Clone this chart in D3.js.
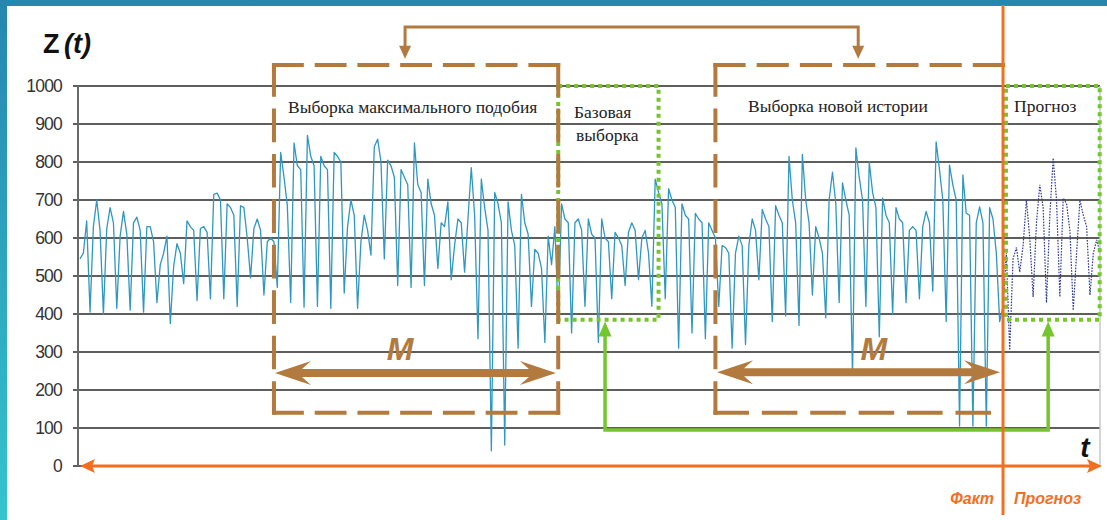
<!DOCTYPE html>
<html><head><meta charset="utf-8">
<script src="https://cdn.jsdelivr.net/npm/d3@7"></script>
<style>html,body{margin:0;padding:0;background:#fff;} svg{display:block;}</style>
</head><body>
<svg id="c" width="1107" height="520"></svg>
<script>
// ---------- DATA ----------
const yTicks = [0, 100, 200, 300, 400, 500, 600, 700, 800, 900, 1000];

// Actual series Z(t) (fact), one week per line: three working-day values then the weekend trough
const actual = [
  545, 560, 645, 405,
  630, 700, 620, 400,
  625, 680, 640, 415,
  605, 670, 610, 410,
  640, 655, 620, 405,
  630, 630, 590, 430,
  530, 560, 605, 375,
  525, 585, 560, 480,
  645, 630, 620, 435,
  625, 630, 615, 440,
  715, 718, 700, 440,
  690, 680, 660, 420,
  685, 680, 600, 495,
  625, 650, 620, 450,
  590, 600, 590, 470,
  825, 760, 685, 430,
  850, 790, 780, 418,
  870, 815, 790, 420,
  815, 790, 780, 415,
  825, 815, 800, 455,
  630, 700, 660, 415,
  590, 660, 620, 555,
  840, 860, 800, 545,
  805, 790, 760, 475,
  780, 760, 740, 470,
  850, 740, 720, 475,
  755, 690, 660, 520,
  640, 630, 695, 490,
  580, 650, 640, 510,
  650, 785, 660, 335,
  755, 680, 620, 40,
  720, 690, 640, 55,
  695, 620, 580, 310,
  715, 640, 610, 420,
  570, 560, 520, 325,
  605, 530, 630, 385,
  690, 650, 640, 350,
  640, 650, 620, 420,
  650, 610, 600, 325,
  650, 600, 590, 440,
  615, 600, 580, 475,
  615, 640, 620, 490,
  600, 620, 560, 420,
  755, 720, 690, 440,
  730, 700, 680, 310,
  690, 660, 650, 350,
  665, 650, 640, 335,
  640, 620, 600, 420,
  580, 575, 560, 310,
  560, 605, 580, 320,
  580, 650, 620, 490,
  675, 650, 630, 380,
  685, 660, 640, 395,
  815, 700, 640, 370,
  820, 700, 640, 450,
  630, 600, 560, 390,
  700, 773, 690, 430,
  745, 700, 660, 240,
  837, 760, 700, 420,
  800, 720, 680, 340,
  705, 660, 640, 400,
  680, 650, 640, 430,
  620, 630, 620, 440,
  630, 670, 640, 460,
  853, 780, 700, 380,
  792, 740, 700, 105,
  766, 665, 660, 105,
  640, 682, 640, 105,
  680, 650, 560, 380,
  420
];

// Forecast series (starts at the last fact point)
const forecast = [420, 560, 305, 545, 575, 510, 580, 700, 600, 445, 640, 740, 680, 430, 660,
                  810, 700, 445, 705, 690, 620, 410, 560, 700, 660, 630, 450, 560, 595, 560];

// Annotation spans (in time-index units) and levels (in Z units)
const spanMaxSim = [58, 143];
const spanBase = [143, 173];
const spanNew = [190, 276];
const spanForecast = [276, 305];
const arrowM1 = [58.3, 142.3];
const arrowM2 = [190.5, 275.1];
const labelM = [95.7, 237.4];
const linkTop = [97.2, 232.7];
const linkGreen = [157, 289.5];

const boxTexts = ["Выборка максимального подобия", "Базовая", "выборка", "Выборка новой истории", "Прогноз"];
const axisTexts = { z: "Z", zt: "(t)", t: "t", fact: "Факт", prog: "Прогноз", m: "M" };

// ---------- DRAW ----------
const W = 1107, H = 520;
const svg = d3.select('#c');
const x = d3.scaleLinear().domain([0, actual.length - 1 + forecast.length - 1]).range([80, 1100]);
const y = d3.scaleLinear().domain([0, 1000]).range([466, 86]);

const BROWN = '#b27a3e', GREEN = '#74c52e', ORANGE = '#f26f1f';

const defs = svg.append('defs');
const grad = defs.append('linearGradient').attr('id', 'frame').attr('x1', 0).attr('y1', 0).attr('x2', 0).attr('y2', 1);
grad.append('stop').attr('offset', '0%').attr('stop-color', '#2686b0');
grad.append('stop').attr('offset', '100%').attr('stop-color', '#35c4cd');
svg.append('rect').attr('width', W).attr('height', H).attr('fill', 'url(#frame)');
svg.append('rect').attr('x', 7).attr('y', 6).attr('width', W - 7).attr('height', H - 6).attr('fill', '#fff');

// gridlines
svg.append('g').selectAll('line').data(yTicks).join('line')
  .attr('x1', 73).attr('x2', 1100).attr('y1', d => y(d)).attr('y2', d => y(d))
  .attr('stroke', '#5e5e5e').attr('stroke-width', 1.8);
// right light border
svg.append('line').attr('x1', 1100).attr('x2', 1100).attr('y1', y(1000)).attr('y2', y(0))
  .attr('stroke', '#c8c8c8').attr('stroke-width', 1.5);
// y axis line
svg.append('line').attr('x1', 78).attr('x2', 78).attr('y1', y(1000)).attr('y2', y(0))
  .attr('stroke', '#6a6a6a').attr('stroke-width', 2);

const ax = svg.append('g').attr('transform', 'translate(73,0)')
  .call(d3.axisLeft(y).tickValues(yTicks).tickFormat(d3.format('d')).tickSize(0).tickPadding(11));
ax.select('.domain').remove();
ax.selectAll('text').attr('font-family', 'Liberation Sans, Arial, sans-serif').attr('font-size', 17.5)
  .attr('fill', '#333').attr('letter-spacing', -0.8);

// series
const line = d3.line().x(d => x(d[0])).y(d => y(d[1]));
svg.append('path').datum(actual.map((v, i) => [i, v])).attr('d', line)
  .attr('fill', 'none').attr('stroke', '#2f97c1').attr('stroke-width', 1.3).attr('stroke-linejoin', 'round');
const off = actual.length - 1;
svg.append('path').datum(forecast.map((v, i) => [off + i, v])).attr('d', line)
  .attr('fill', 'none').attr('stroke', '#2f3896').attr('stroke-width', 1.2).attr('stroke-dasharray', '1.6,1.3');

// helper dashed edge with solid ends
function dashedEdge(g, x1, y1, x2, y2, d, gp, color, w) {
  const L = Math.hypot(x2 - x1, y2 - y1);
  const n = Math.max(1, Math.round((L - d) / (d + gp)));
  const s = L / (n * (d + gp) + d);
  g.append('line').attr('x1', x1).attr('y1', y1).attr('x2', x2).attr('y2', y2)
    .attr('stroke', color).attr('stroke-width', w)
    .attr('stroke-dasharray', `${d * s},${gp * s}`).attr('stroke-linecap', 'square');
}

// green dotted boxes
const gbox = svg.append('g');
[[spanBase[0], spanBase[1]], [spanForecast[0] + 0.9, spanForecast[1] - 0.1]].forEach(([a, b]) => {
  gbox.append('rect').attr('x', x(a)).attr('y', y(1000)).attr('width', x(b) - x(a)).attr('height', y(385) - y(1000))
    .attr('fill', 'none').attr('stroke', GREEN).attr('stroke-width', 4).attr('stroke-dasharray', '4,4');
});

// brown dashed boxes
const bb = svg.append('g');
const bx1 = x(spanMaxSim[0]), bx2 = x(spanMaxSim[1]), byT = y(1055), byB = y(140);
dashedEdge(bb, bx1, byT, bx2, byT, 30, 16, BROWN, 4);
dashedEdge(bb, bx1, byT, bx1, byB, 30, 16, BROWN, 4);
dashedEdge(bb, bx2, byT, bx2, byB, 30, 16, BROWN, 4);
dashedEdge(bb, bx1, byB, bx2, byB, 30, 16, BROWN, 4);
const nx1 = x(spanNew[0]), nx2 = x(spanNew[1]);
dashedEdge(bb, nx1, byT, nx2, byT, 30, 16, BROWN, 4);
dashedEdge(bb, nx1, byT, nx1, byB, 30, 16, BROWN, 4);
dashedEdge(bb, nx1, byB, nx2 - 14, byB, 30, 16, BROWN, 4);

// top connector with down arrows
const tY = y(1155), tTip = y(1072);
svg.append('path').attr('d', `M${x(linkTop[0])},${tTip - 8} V${tY} H${x(linkTop[1])} V${tTip - 8}`)
  .attr('fill', 'none').attr('stroke', BROWN).attr('stroke-width', 3);
linkTop.forEach(i => {
  const cx = x(i);
  svg.append('path').attr('d', `M${cx},${tTip} L${cx - 6},${tTip - 13} L${cx + 6},${tTip - 13} Z`).attr('fill', BROWN);
});

// M double arrows
function dblArrow(a, b, c) {
  const L = x(a), R = x(b);
  const pts = [[L, c], [L + 36, c - 12], [L + 27, c - 4], [R - 27, c - 4], [R - 36, c - 12], [R, c],
               [R - 36, c + 12], [R - 27, c + 4], [L + 27, c + 4], [L + 36, c + 12]];
  svg.append('path').attr('d', 'M' + pts.map(p => p.join(',')).join('L') + 'Z').attr('fill', BROWN);
}
dblArrow(arrowM1[0], arrowM1[1], y(245));
dblArrow(arrowM2[0], arrowM2[1], y(247));
labelM.forEach(i => {
  svg.append('text').attr('x', x(i)).attr('y', 360).attr('text-anchor', 'middle')
    .attr('font-family', 'Liberation Sans, Arial, sans-serif').attr('font-weight', 'bold').attr('font-style', 'italic')
    .attr('font-size', 32).attr('fill', BROWN).text(axisTexts.m);
});

// green connector
const gx1 = x(linkGreen[0]), gx2 = x(linkGreen[1]), gyB = y(95), gTip = y(380);
svg.append('path').attr('d', `M${gx1},${gTip + 10} V${gyB} H${gx2} V${gTip + 10}`)
  .attr('fill', 'none').attr('stroke', GREEN).attr('stroke-width', 3.5);
[gx1, gx2].forEach(cx => {
  svg.append('path').attr('d', `M${cx},${gTip} L${cx - 6.5},${gTip + 15} L${cx + 6.5},${gTip + 15} Z`).attr('fill', GREEN);
});

// orange axes
const ox = x(off);
svg.append('line').attr('x1', ox).attr('x2', ox).attr('y1', 5).attr('y2', 515).attr('stroke', ORANGE).attr('stroke-width', 3);
svg.append('line').attr('x1', 84).attr('x2', 1096).attr('y1', y(0)).attr('y2', y(0)).attr('stroke', ORANGE).attr('stroke-width', 3);
svg.append('path').attr('d', `M80,${y(0)} L95,${y(0) - 7} L92,${y(0)} L95,${y(0) + 7} Z`).attr('fill', ORANGE);
svg.append('path').attr('d', `M1102,${y(0)} L1087,${y(0) - 7} L1090,${y(0)} L1087,${y(0) + 7} Z`).attr('fill', ORANGE);

// texts
const serif = 'Liberation Serif, Times New Roman, serif';
const sans = 'Liberation Sans, Arial, sans-serif';
function txt(t, xx, yy, opts) {
  const e = svg.append('text').attr('x', xx).attr('y', yy).text(t);
  Object.entries(opts).forEach(([k, v]) => e.attr(k, v));
  return e;
}
txt(boxTexts[0], 288, 113, { 'font-family': serif, 'font-size': 17.5, fill: '#222' });
txt(boxTexts[1], 574, 118, { 'font-family': serif, 'font-size': 17.5, fill: '#222' });
txt(boxTexts[2], 576, 141, { 'font-family': serif, 'font-size': 17.5, fill: '#222' });
txt(boxTexts[3], 748, 112, { 'font-family': serif, 'font-size': 17.5, fill: '#222' });
txt(boxTexts[4], 1014, 112, { 'font-family': serif, 'font-size': 17.5, fill: '#222' });

txt(axisTexts.z, 43, 53, { 'font-family': sans, 'font-size': 27, 'font-weight': 'bold', fill: '#111' });
txt(axisTexts.zt, 64, 53, { 'font-family': sans, 'font-size': 27, 'font-weight': 'bold', 'font-style': 'italic', fill: '#111' });
txt(axisTexts.t, 1085, 457, { 'font-family': sans, 'font-size': 28, 'font-weight': 'bold', 'font-style': 'italic', fill: '#111', 'text-anchor': 'middle' });
txt(axisTexts.fact, 994, 504, { 'font-family': sans, 'font-size': 16, 'font-weight': 'bold', 'font-style': 'italic', fill: ORANGE, 'text-anchor': 'end' });
txt(axisTexts.prog, 1014, 504, { 'font-family': sans, 'font-size': 16, 'font-weight': 'bold', 'font-style': 'italic', fill: ORANGE });
</script>
</body></html>
